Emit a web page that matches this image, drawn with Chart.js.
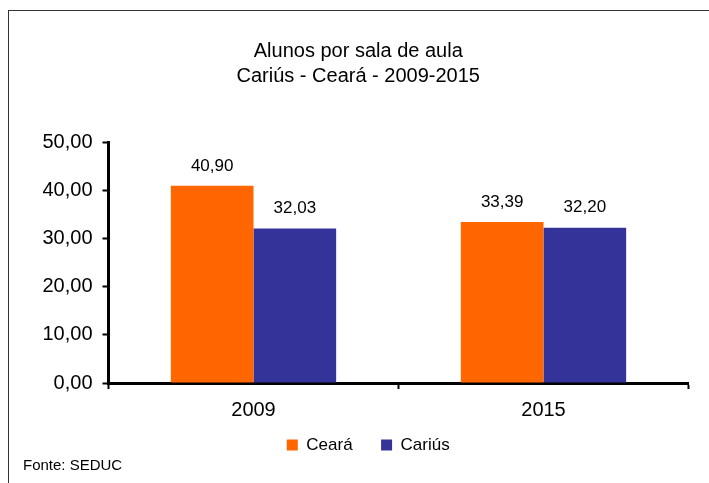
<!DOCTYPE html>
<html>
<head>
<meta charset="utf-8">
<script src="https://cdn.jsdelivr.net/npm/chart.js@4/dist/chart.umd.min.js"></script>
<style>
    body { margin: 0; background: #fff; }
    canvas { display: block; }
</style>
</head>
<body>
<canvas id="chart" width="709" height="483"></canvas>
<script>
// Chart data
const categories = ['2009', '2015'];
const seriesNames = ['Ceará', 'Cariús'];
const cearaValues = [40.90, 33.39];
const cariusValues = [32.03, 32.20];
const titleLines = ['Alunos por sala de aula', 'Cariús - Ceará - 2009-2015'];
const sourceNote = 'Fonte: SEDUC';
const yMax = 50;
const yStep = 10;

const fontFamily = "'Liberation Sans', Arial, sans-serif";

function formatNumber(v) {
    return Number(v).toFixed(2).replace('.', ',');
}

// Outer frame + source note
const framePlugin = {
    id: 'frame',
    afterDraw(chart) {
        const ctx = chart.ctx;
        ctx.save();
        ctx.strokeStyle = '#333';
        ctx.lineWidth = 1;
        ctx.strokeRect(8.5, 10.5, 720, 500);
        ctx.fillStyle = '#000';
        ctx.font = `15px ${fontFamily}`;
        ctx.textBaseline = 'middle';
        ctx.textAlign = 'left';
        ctx.fillText(sourceNote, 23, 466);
        ctx.restore();
    }
};

// Value labels above each bar
const valueLabels = {
    id: 'valueLabels',
    afterDatasetsDraw(chart) {
        const ctx = chart.ctx;
        ctx.save();
        ctx.fillStyle = '#000';
        ctx.font = `17px ${fontFamily}`;
        ctx.textAlign = 'center';
        ctx.textBaseline = 'middle';
        chart.data.datasets.forEach((ds, i) => {
            chart.getDatasetMeta(i).data.forEach((bar, j) => {
                ctx.fillText(formatNumber(ds.data[j]), bar.x, bar.y - 20);
            });
        });
        ctx.restore();
    }
};

// move the legend box a little (right and up), like the original
const legendShift = {
    id: 'legendShift',
    afterLayout(chart) {
        const lg = chart.legend;
        if (!lg) return;
        lg.left += 10;
        lg.right += 10;
        lg.top -= 15;
        lg.bottom -= 15;
    }
};

new Chart(document.getElementById('chart'), {
    type: 'bar',
    data: {
        labels: categories,
        datasets: [
            {
                label: seriesNames[0],
                data: cearaValues,
                backgroundColor: '#FF6600',
                categoryPercentage: 0.57,
                barPercentage: 1
            },
            {
                label: seriesNames[1],
                data: cariusValues,
                backgroundColor: '#333399',
                categoryPercentage: 0.57,
                barPercentage: 1
            }
        ]
    },
    options: {
        responsive: false,
        animation: false,
        layout: {
            padding: { left: 28, right: 20.5, top: 0, bottom: 4.5 }
        },
        plugins: {
            title: {
                display: true,
                text: titleLines,
                color: '#000',
                font: { family: fontFamily, size: 20, weight: 'normal', lineHeight: 1.25 },
                padding: { top: 39, bottom: 53 }
            },
            legend: {
                position: 'bottom',
                labels: {
                    color: '#000',
                    boxWidth: 11,
                    boxHeight: 11,
                    padding: 28.5,
                    font: { family: fontFamily, size: 17 }
                }
            },
            tooltip: { enabled: false }
        },
        scales: {
            x: {
                grid: {
                    drawOnChartArea: false,
                    drawTicks: true,
                    tickLength: 6,
                    tickWidth: 2,
                    color: '#000'
                },
                border: { color: '#000', width: 3 },
                ticks: {
                    color: '#000',
                    padding: 9,
                    font: { family: fontFamily, size: 20 }
                },
                afterFit(scale) {
                    scale.height = 40;
                }
            },
            y: {
                min: 0,
                max: yMax,
                ticks: {
                    stepSize: yStep,
                    color: '#000',
                    padding: 10,
                    font: { family: fontFamily, size: 20 },
                    callback: (v) => formatNumber(v)
                },
                grid: {
                    drawOnChartArea: false,
                    drawTicks: true,
                    tickLength: 6,
                    tickWidth: 2,
                    color: '#000'
                },
                border: { color: '#000', width: 3 },
                afterFit(scale) {
                    scale.width = 80.5;
                }
            }
        }
    },
    plugins: [framePlugin, valueLabels, legendShift]
});
</script>
</body>
</html>
